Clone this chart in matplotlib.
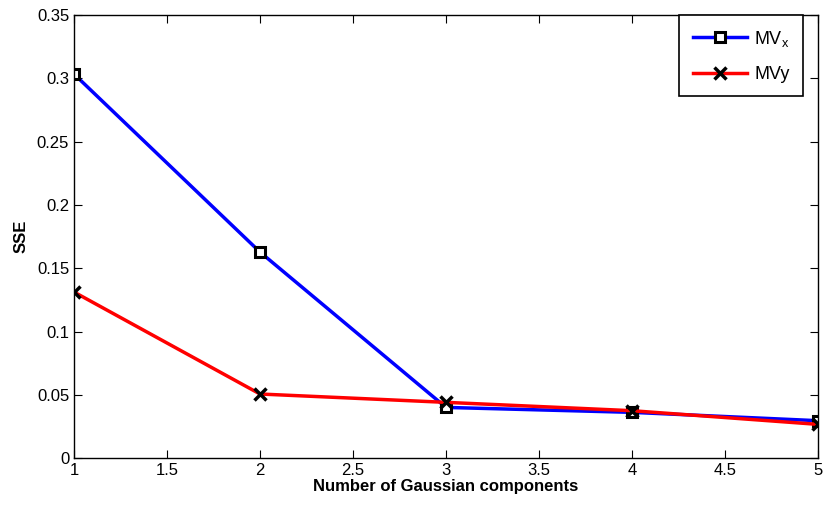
import matplotlib
matplotlib.use("Agg")
import matplotlib.pyplot as plt

# ─── Veri ─────────────────────────────────────────────────────────────────────
components = [1, 2, 3, 4, 5]
sse_mvx = [0.3035, 0.1628, 0.0400, 0.0361, 0.0295]
sse_mvy = [0.1312, 0.0506, 0.0440, 0.0374, 0.0266]

x_ticks = [1, 1.5, 2, 2.5, 3, 3.5, 4, 4.5, 5]
x_tick_labels = ["1", "1.5", "2", "2.5", "3", "3.5", "4", "4.5", "5"]
y_ticks = [0, 0.05, 0.1, 0.15, 0.2, 0.25, 0.3, 0.35]
y_tick_labels = ["0", "0.05", "0.1", "0.15", "0.2", "0.25", "0.3", "0.35"]

plt.rcParams["font.family"] = ["Liberation Sans", "DejaVu Sans"]

fig = plt.figure(figsize=(8.25, 5.07), dpi=100)
ax = fig.add_axes([0.0897, 0.0966, 0.9018, 0.8734])

ax.plot(components, sse_mvx, color="blue", linewidth=2.5, marker="s", markersize=7,
        markerfacecolor="white", markeredgecolor="black", markeredgewidth=2.2,
        label="MV$_\\mathregular{x}$")
ax.plot(components, sse_mvy, color="red", linewidth=2.5, marker="x", markersize=9,
        markeredgecolor="black", markeredgewidth=2.5, label="MVy")

ax.set_xlim(1, 5)
ax.set_ylim(0, 0.35)
ax.set_xticks(x_ticks)
ax.set_xticklabels(x_tick_labels)
ax.set_yticks(y_ticks)
ax.set_yticklabels(y_tick_labels)
ax.tick_params(direction="in", top=True, right=True, labelsize=12, length=6)
for s in ax.spines.values():
    s.set_linewidth(1.0)

ax.set_xlabel("Number of Gaussian components", fontsize=12, fontweight="bold", labelpad=1)
ax.set_ylabel("SSE", fontsize=12, fontweight="bold", labelpad=6)

leg = ax.legend(loc="upper right", bbox_to_anchor=(0.980, 1.0), borderaxespad=0,
                fontsize=13, fancybox=False, framealpha=1, edgecolor="black",
                handlelength=3.0, handletextpad=0.4, borderpad=0.75, labelspacing=0.95)
leg.get_frame().set_linewidth(1.2)

fig.savefig("out.png", dpi=100)
